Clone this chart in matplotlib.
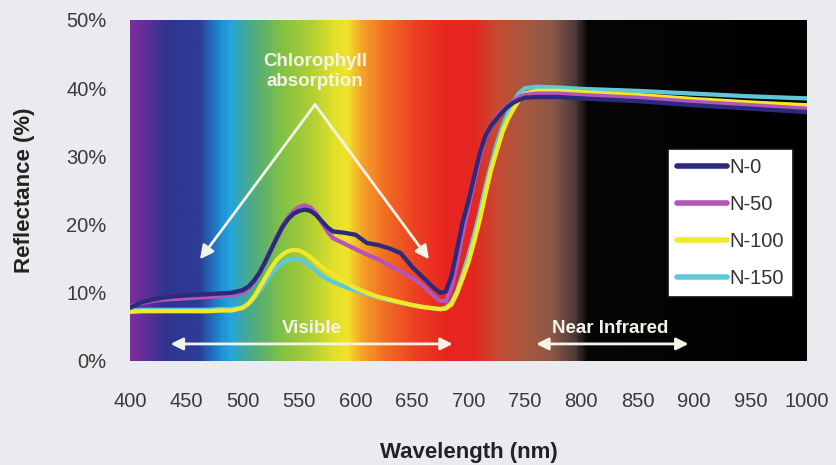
import numpy as np
import matplotlib
matplotlib.use("Agg")
import matplotlib.pyplot as plt
from matplotlib.colors import LinearSegmentedColormap

plt.rcParams['font.family'] = ['Liberation Sans', 'DejaVu Sans']

# wavelength grid (nm)
wavelength = [400, 410, 420, 430, 440, 450, 460, 470, 480, 490, 500, 505, 510, 515, 520,
              525, 530, 535, 540, 545, 550, 555, 560, 565, 570, 575, 580, 590, 600, 610,
              620, 630, 640, 650, 660, 670, 675, 680, 685, 690, 695, 700, 705, 710, 715,
              720, 725, 730, 735, 740, 745, 750, 760, 780, 800, 850, 900, 950, 1000]

# reflectance (%)
n0 = [7.8, 8.6, 9.0, 9.3, 9.5, 9.6, 9.7, 9.8, 9.9, 10.0, 10.4, 10.9, 11.8, 13.0, 14.6,
      16.3, 18.0, 19.6, 20.8, 21.6, 22.0, 22.2, 22.0, 21.4, 20.5, 19.6, 19.0, 18.8, 18.5, 17.3,
      17.0, 16.5, 15.8, 13.8, 12.2, 10.6, 10.0, 10.2, 12.5, 16.5, 20.5, 23.5, 27.0, 30.5, 33.0,
      34.5, 35.5, 36.5, 37.3, 37.9, 38.3, 38.6, 38.7, 38.7, 38.5, 38.1, 37.5, 37.0, 36.5]
n50 = [8.0, 8.5, 8.8, 9.0, 9.1, 9.2, 9.3, 9.4, 9.5, 9.6, 10.0, 10.6, 11.6, 13.0, 14.6,
       16.4, 18.2, 19.8, 21.0, 22.0, 22.6, 22.8, 22.5, 21.6, 20.3, 19.0, 18.0, 17.2, 16.4, 15.6,
       14.9, 14.0, 13.1, 12.2, 11.0, 9.4, 8.8, 8.8, 10.8, 14.5, 18.8, 22.5, 26.3, 29.8, 32.6,
       34.5, 35.7, 36.7, 37.5, 38.2, 38.7, 39.0, 39.2, 39.2, 39.0, 38.6, 38.0, 37.5, 37.0]
n100 = [7.2, 7.3, 7.3, 7.3, 7.3, 7.3, 7.3, 7.3, 7.4, 7.4, 7.8, 8.4, 9.4, 10.8, 12.2,
        13.6, 14.8, 15.6, 16.1, 16.3, 16.2, 15.8, 15.2, 14.5, 13.8, 13.2, 12.7, 11.6, 10.7, 10.0,
        9.4, 9.0, 8.6, 8.2, 7.9, 7.7, 7.6, 7.7, 8.3, 10.0, 12.2, 14.5, 17.5, 20.7, 24.5,
        28.0, 30.8, 33.5, 35.5, 37.0, 38.3, 39.2, 39.6, 39.6, 39.4, 39.0, 38.4, 37.9, 37.5]
n150 = [7.4, 7.5, 7.5, 7.5, 7.5, 7.5, 7.5, 7.5, 7.6, 7.6, 7.9, 8.4, 9.2, 10.3, 11.5,
        12.7, 13.7, 14.4, 14.8, 15.0, 14.9, 14.5, 13.9, 13.2, 12.5, 12.0, 11.6, 10.9, 10.3, 9.8,
        9.3, 8.9, 8.5, 8.2, 7.9, 7.7, 7.6, 7.8, 8.6, 10.3, 12.8, 15.5, 18.5, 21.8, 25.5,
        28.8, 31.8, 34.3, 36.4, 38.1, 39.3, 40.0, 40.2, 40.1, 39.9, 39.6, 39.2, 38.8, 38.5]

series = [('N-0', n0, '#2b2a7c'), ('N-50', n50, '#b455b8'),
          ('N-100', n100, '#f2e82a'), ('N-150', n150, '#5ec8da')]

# spectrum background colours
spectrum = [(400, '#7a2e9c'), (415, '#5a2f98'), (430, '#2e3590'), (460, '#2e3c96'),
            (478, '#1f88d0'), (488, '#22a5e0'), (500, '#3fa8a0'), (515, '#5bb070'),
            (532, '#7fc045'), (558, '#acce35'), (580, '#e0e02a'), (592, '#f2e42a'),
            (606, '#f5a028'), (625, '#f07022'), (650, '#ed4422'), (680, '#e82420'),
            (705, '#e42620'), (725, '#c84a32'), (750, '#a8583f'), (775, '#8a5848'),
            (795, '#4a3a38'), (806, '#060606'), (1000, '#000000')]

fig = plt.figure(figsize=(8.36, 4.65), dpi=100, facecolor='#e9ebee')
ax = fig.add_axes([0.1555, 0.2237, 0.8098, 0.7333])

cmap = LinearSegmentedColormap.from_list(
    'spec', [((w - 400) / 600, c) for w, c in spectrum])
ax.imshow(np.linspace(0, 1, 600)[None, :], cmap=cmap, aspect='auto',
          extent=[400, 1000, 0, 50], zorder=0)

for i, (name, vals, col) in enumerate(series):
    ax.plot(wavelength, vals, color=col, lw=3.1, label=name, zorder=5 - i,
            solid_capstyle='round', solid_joinstyle='round')

ax.set_xlim(400, 1000)
ax.set_ylim(0, 50)
ax.set_xticks(range(400, 1001, 50))
ax.set_yticks(range(0, 51, 10))
ax.set_yticklabels([f'{v}%' for v in range(0, 51, 10)])
ax.tick_params(length=0, labelsize=14.5, colors='#3a3a3a')
ax.tick_params(axis='x', pad=22)
ax.tick_params(axis='y', pad=17)
for s in ax.spines.values():
    s.set_visible(False)

ax.set_xlabel('Wavelength (nm)', fontsize=16, fontweight='bold', color='#222222', labelpad=23)
ax.set_ylabel('Reflectance (%)', fontsize=16, fontweight='bold', color='#222222', labelpad=22)

txt_col = '#f3f3e8'
ax.text(564, 42.4, 'Chlorophyll\nabsorption', ha='center', va='center', color=txt_col,
        fontsize=13.5, fontweight='bold', linespacing=1.25, zorder=8)
for tx in (462, 665):
    ax.annotate('', xy=(tx, 14.9), xytext=(564, 37.6),
                arrowprops=dict(arrowstyle='-|>', color=txt_col, lw=2, mutation_scale=20,
                                shrinkA=0, shrinkB=0), zorder=8)

ax.text(561, 4.7, 'Visible', ha='center', va='center', color=txt_col,
        fontsize=13.5, fontweight='bold', zorder=8)
ax.annotate('', xy=(436, 2.5), xytext=(686, 2.5),
            arrowprops=dict(arrowstyle='<|-|>', color=txt_col, lw=2, mutation_scale=18,
                            shrinkA=0, shrinkB=0), zorder=8)
ax.text(826, 4.7, 'Near Infrared', ha='center', va='center', color=txt_col,
        fontsize=13.5, fontweight='bold', zorder=8)
ax.annotate('', xy=(760, 2.5), xytext=(895, 2.5),
            arrowprops=dict(arrowstyle='<|-|>', color=txt_col, lw=2, mutation_scale=18,
                            shrinkA=0, shrinkB=0), zorder=8)

leg = ax.legend(loc='upper right', bbox_to_anchor=(0.979, 0.622), fontsize=14.5,
                frameon=True, fancybox=False, edgecolor='#111111', facecolor='white',
                framealpha=1, handlelength=2.5, handletextpad=0.1, labelspacing=0.9,
                borderpad=0.45, borderaxespad=0)
leg.get_frame().set_linewidth(1.2)
for line in leg.get_lines():
    line.set_linewidth(4)
for t in leg.get_texts():
    t.set_color('#333333')
leg.set_zorder(10)

fig.savefig('out.png', dpi=100, facecolor=fig.get_facecolor())
